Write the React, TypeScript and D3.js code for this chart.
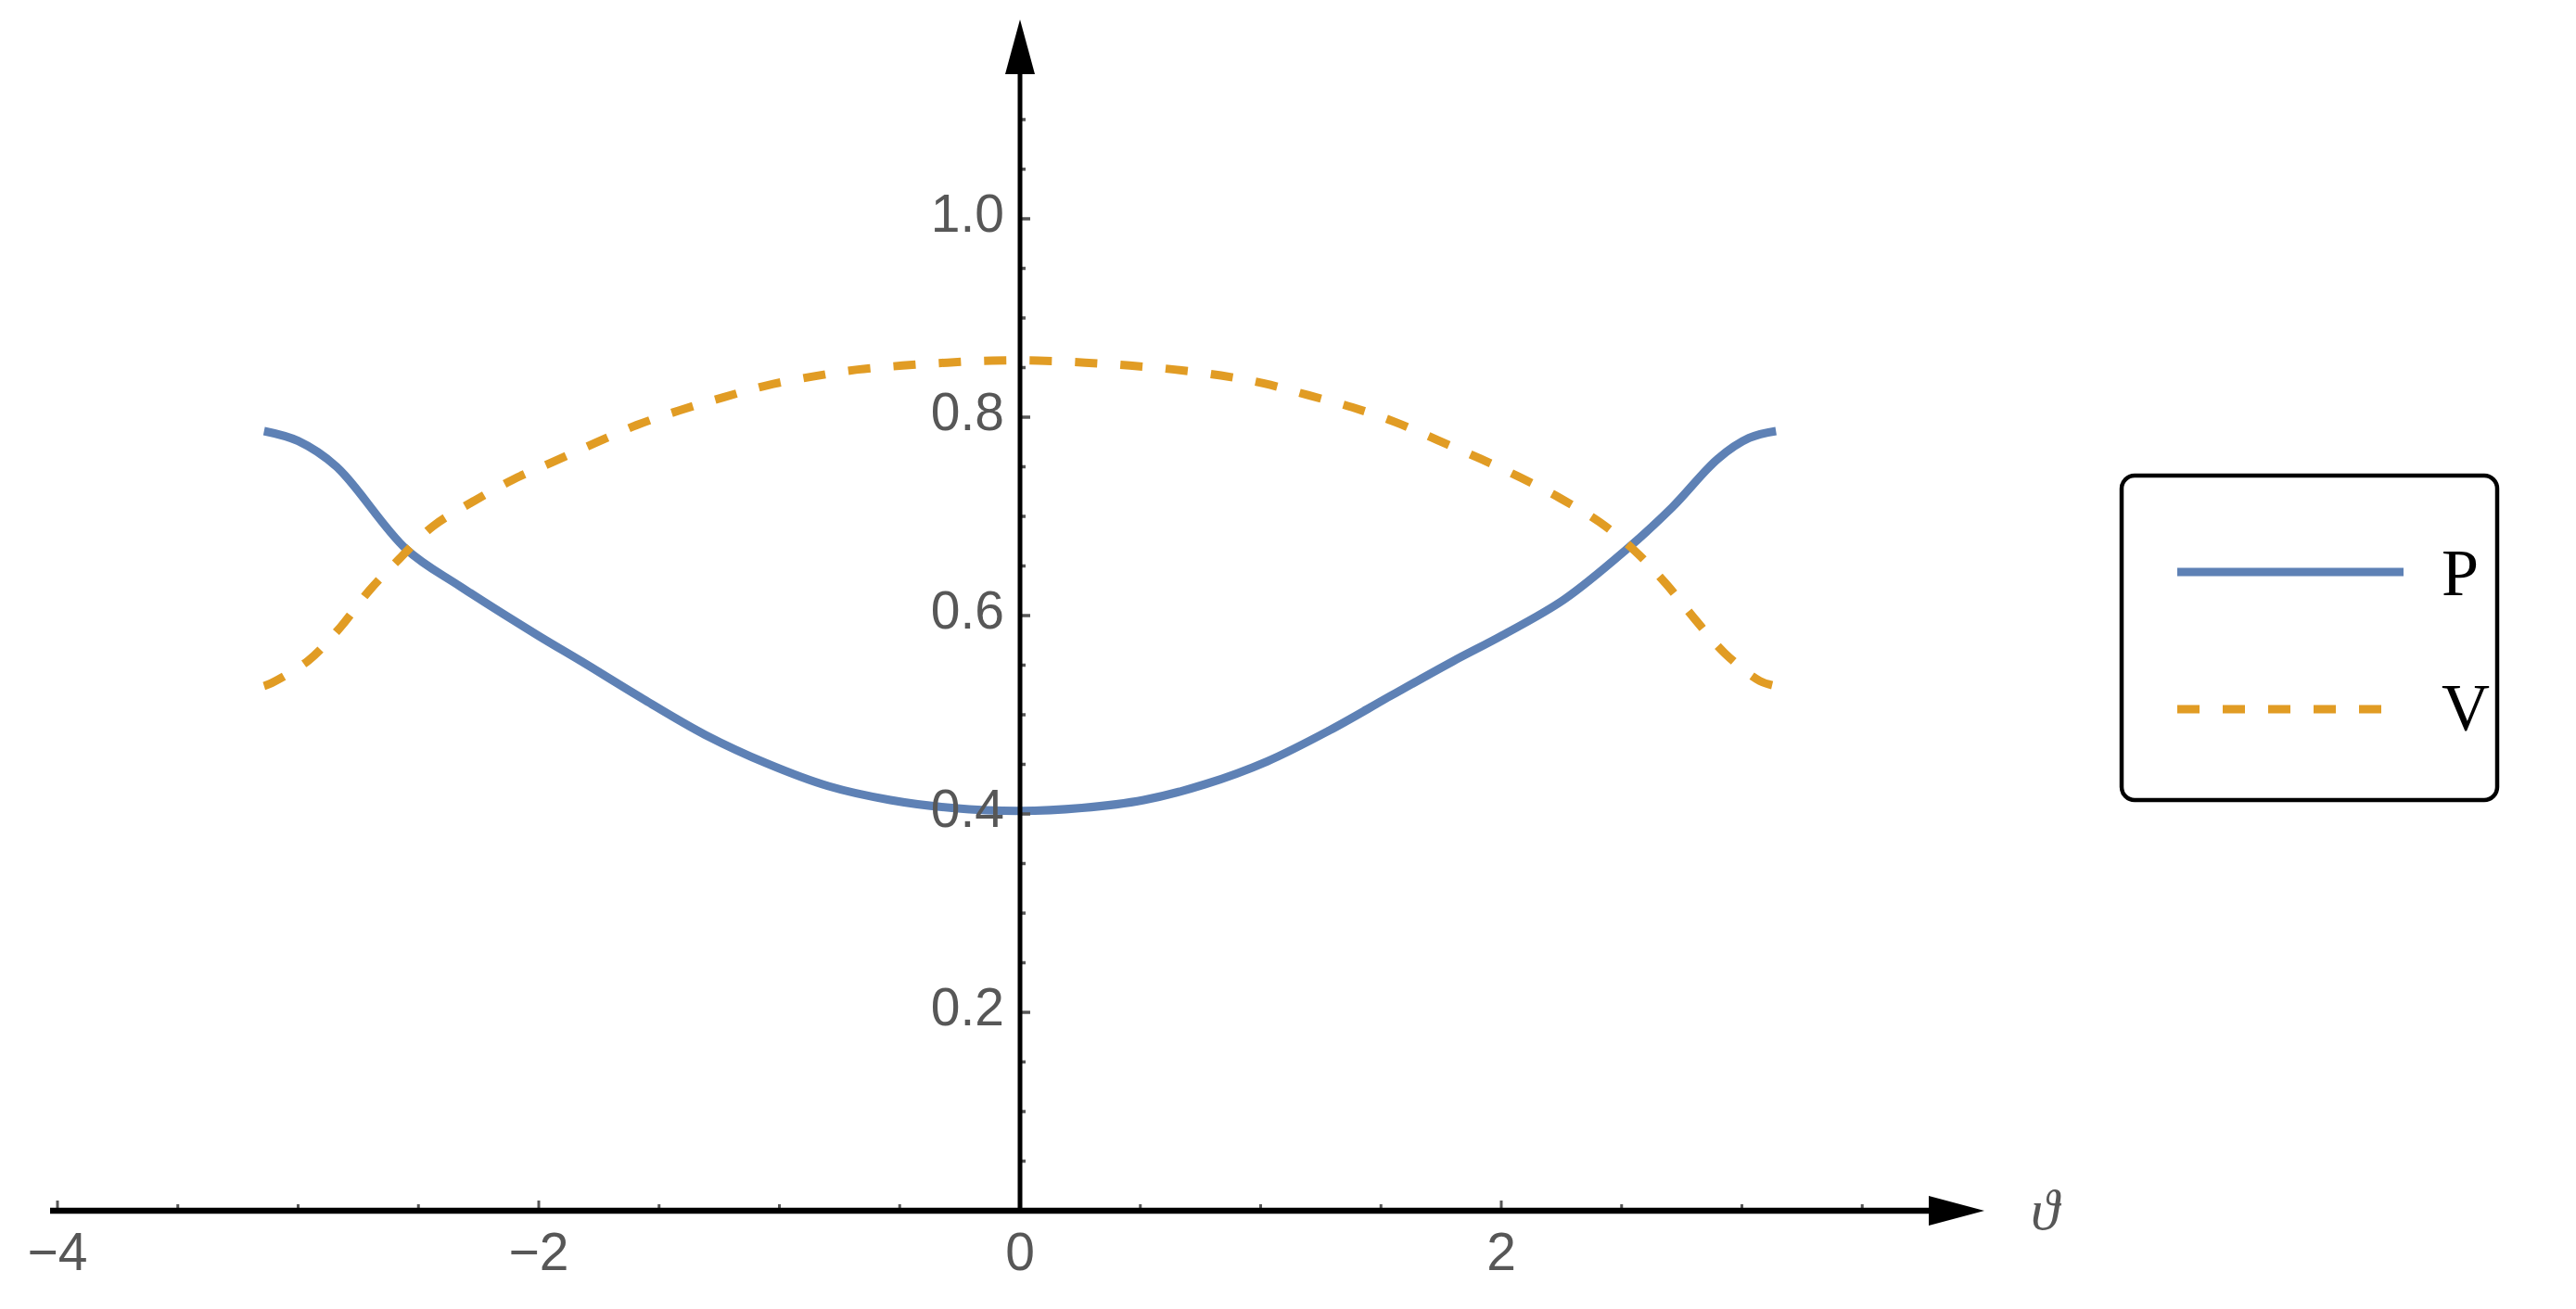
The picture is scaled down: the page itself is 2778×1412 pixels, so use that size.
import React from "react";
import * as d3 from "d3";

// ---- data ----
const pTheta = [-3.1416, -3.0, -2.84, -2.551, -2.324, -2.004, -1.824, -1.567, -1.31, -1.053, -0.796, -0.539, -0.282, 0, 0.257, 0.514, 0.77, 1.027, 1.284, 1.54, 1.8, 2.004, 2.26, 2.517, 2.71, 2.9, 3.03, 3.1416];
const pValues = [0.786, 0.776, 0.750, 0.667, 0.629, 0.580, 0.554, 0.516, 0.480, 0.451, 0.428, 0.414, 0.406, 0.403, 0.406, 0.414, 0.430, 0.453, 0.484, 0.519, 0.554, 0.580, 0.616, 0.666, 0.709, 0.758, 0.779, 0.786];

const vTheta = [-3.1416, -3.11, -2.956, -2.825, -2.705, -2.58, -2.44, -2.28, -2.108, -1.94, -1.766, -1.593, -1.413, -1.233, -1.053, -0.861, -0.674, -0.488, -0.302, -0.116, 0.077, 0.27, 0.456, 0.642, 0.835, 1.015, 1.2, 1.38, 1.56, 1.734, 1.914, 2.081, 2.247, 2.41, 2.556, 2.685, 2.806, 2.929, 3.075, 3.1416];
const vValues = [0.529, 0.532, 0.555, 0.588, 0.625, 0.657, 0.690, 0.714, 0.737, 0.755, 0.774, 0.792, 0.807, 0.820, 0.832, 0.841, 0.848, 0.852, 0.855, 0.857, 0.857, 0.855, 0.852, 0.848, 0.842, 0.834, 0.822, 0.810, 0.795, 0.777, 0.758, 0.739, 0.718, 0.694, 0.665, 0.632, 0.596, 0.562, 0.534, 0.529];

const xTickLabels = [-4, -2, 0, 2];
const yTickLabels = [0.2, 0.4, 0.6, 0.8, 1.0];
const seriesNames = ["P", "V"];

const BLUE = "#5E81B5";
const ORANGE = "#E19C24";
const GRAY = "#575757";

export default function App() {
  const W = 2778, H = 1412;
  const x = d3.scaleLinear().domain([-4, 4]).range([1100 - 4 * 259.5, 1100 + 4 * 259.5]);
  const y = d3.scaleLinear().domain([0, 1]).range([1306, 236]);
  const x0 = x(0), y0 = y(0);

  const line = d3.line<[number, number]>().x(d => x(d[0])).y(d => y(d[1])).curve(d3.curveCatmullRom.alpha(0.5));
  const pPath = line(pTheta.map((t, i) => [t, pValues[i]] as [number, number])) || "";
  const vPath = line(vTheta.map((t, i) => [t, vValues[i]] as [number, number])) || "";

  const xMinor = d3.range(-4, 3.75, 0.5);
  const yMinor = d3.range(1, 23).map(i => i * 0.05);

  const xTip = 2140, yTip = 21;
  const labelFont = "'Liberation Sans', Arial, sans-serif";
  const serif = "'Liberation Serif', 'Times New Roman', serif";

  return (
    <svg width={W} height={H} style={{ position: "absolute", left: 0, top: 0, background: "#fff" }}>
      <rect x={0} y={0} width={W} height={H} fill="#fff" />
      {/* curves */}
      <path d={pPath} fill="none" stroke={BLUE} strokeWidth={9} />
      <path d={vPath} fill="none" stroke={ORANGE} strokeWidth={9} strokeDasharray="24 25" />

      {/* x ticks */}
      {xMinor.map((t, i) => {
        const major = Math.abs(t - Math.round(t / 2) * 2) < 1e-6;
        return <line key={"xt" + i} x1={x(t)} x2={x(t)} y1={y0} y2={y0 - (major ? 11 : 7)} stroke={GRAY} strokeWidth={3} />;
      })}
      {/* y ticks */}
      {yMinor.map((v, i) => {
        const major = Math.abs(v * 5 - Math.round(v * 5)) < 1e-6;
        return <line key={"yt" + i} x1={x0} x2={x0 + (major ? 11 : 6)} y1={y(v)} y2={y(v)} stroke={GRAY} strokeWidth={3.5} />;
      })}

      {/* axes */}
      <line x1={54} x2={xTip - 50} y1={y0} y2={y0} stroke="#000" strokeWidth={6.5} />
      <polygon points={`${xTip},${y0} ${xTip - 60},${y0 - 16} ${xTip - 60},${y0 + 16}`} fill="#000" />
      <line x1={x0} x2={x0} y1={y0 + 3} y2={yTip + 50} stroke="#000" strokeWidth={5} />
      <polygon points={`${x0},${yTip} ${x0 - 16},${yTip + 59} ${x0 + 16},${yTip + 59}`} fill="#000" />

      {/* tick labels */}
      {xTickLabels.map(t => (
        <text key={"xl" + t} x={x(t)} y={1370} textAnchor="middle" fontFamily={labelFont} fontSize={57} fill={GRAY}>
          {t < 0 ? "\u2212" + Math.abs(t) : String(t)}
        </text>
      ))}
      {yTickLabels.map(v => (
        <text key={"yl" + v} x={1083} y={y(v) + 14} textAnchor="end" fontFamily={labelFont} fontSize={57} fill={GRAY}>
          {v.toFixed(1)}
        </text>
      ))}
      <text x={2190} y={1326} fontFamily={serif} fontStyle="italic" fontSize={62} fill={GRAY}>ϑ</text>

      {/* legend */}
      <rect x={2288} y={513} width={405} height={350} rx={14} ry={14} fill="#fff" stroke="#000" strokeWidth={4.5} />
      <line x1={2348} x2={2592} y1={617} y2={617} stroke={BLUE} strokeWidth={9} />
      <line x1={2348} x2={2592} y1={765} y2={765} stroke={ORANGE} strokeWidth={9} strokeDasharray="24 25" />
      <text x={2633} y={642} fontFamily={serif} fontSize={72} fill="#000">{seriesNames[0]}</text>
      <text x={2633} y={787} fontFamily={serif} fontSize={72} fill="#000">{seriesNames[1]}</text>
    </svg>
  );
}
